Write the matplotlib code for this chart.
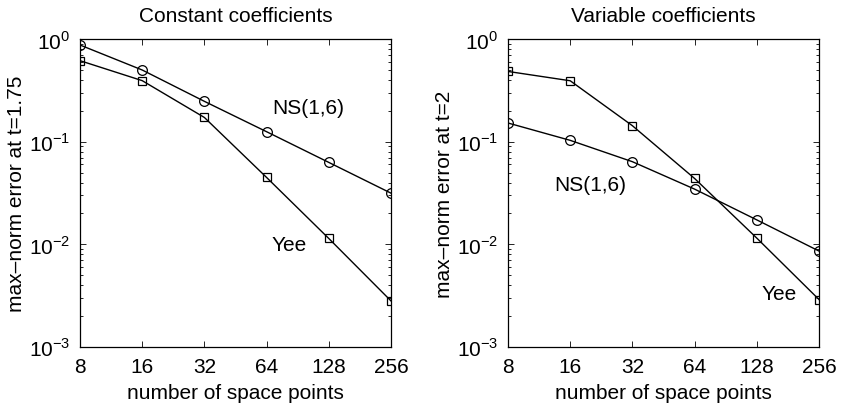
import numpy as np
import matplotlib
matplotlib.use("Agg")
import matplotlib.pyplot as plt
from matplotlib.ticker import FixedLocator, LogLocator, NullFormatter

plt.rcParams['font.family'] = ['Liberation Sans', 'DejaVu Sans']
plt.rcParams['mathtext.fontset'] = 'custom'
plt.rcParams['mathtext.rm'] = 'Liberation Sans'
plt.rcParams['font.size'] = 15

# grid sizes
n_points = [8, 16, 32, 64, 128, 256]
x_ticklabels = ["8", "16", "32", "64", "128", "256"]

# constant coefficients, error at t=1.75
const_ns = [0.874, 0.499, 0.247, 0.125, 0.0628, 0.0315]
const_yee = [0.615, 0.393, 0.172, 0.0448, 0.0114, 0.00281]

# variable coefficients, error at t=2
var_ns = [0.152, 0.103, 0.0638, 0.0345, 0.0173, 0.0086]
var_yee = [0.483, 0.392, 0.143, 0.0438, 0.0115, 0.0029]

y_ticks = [1e-3, 1e-2, 1e-1, 1e0]
y_ticklabels = [r"$10^{-3}$", r"$10^{-2}$", r"$10^{-1}$", r"$10^{0}$"]

panels = [
    ("Constant coefficients", "max\u2013norm error at t=1.75", const_ns, const_yee,
     (101.8, 0.217), (82.6, 0.0100)),
    ("Variable coefficients", "max\u2013norm error at t=2", var_ns, var_yee,
     (20.0, 0.0386), (165.0, 0.00334)),
]

fig = plt.figure(figsize=(8.42, 4.10), dpi=100)
lefts = [80 / 842, 508 / 842]
w = 311 / 842
b = 1 - 348 / 410
h = 308 / 410

fs = 15
for left, (title, ylab, ns, yee, ns_pos, yee_pos) in zip(lefts, panels):
    ax = fig.add_axes([left, b, w, h])
    ax.plot(n_points, ns, '-', color='k', lw=1.0, marker='o', ms=7,
            mfc='none', mec='k', mew=0.9)
    ax.plot(n_points, yee, '-', color='k', lw=1.0, marker='s', ms=5.5,
            mfc='none', mec='k', mew=0.9)
    ax.set_xscale('log', base=2)
    ax.set_yscale('log')
    ax.set_xlim(8, 256)
    ax.set_ylim(1e-3, 1)
    ax.xaxis.set_major_locator(FixedLocator(n_points))
    ax.set_xticklabels(x_ticklabels)
    ax.xaxis.set_minor_locator(FixedLocator([]))
    ax.yaxis.set_major_locator(FixedLocator(y_ticks))
    ax.set_yticklabels(y_ticklabels)
    ax.yaxis.set_minor_locator(LogLocator(base=10, subs=np.arange(2, 10)))
    ax.yaxis.set_minor_formatter(NullFormatter())
    ax.tick_params(which='both', direction='in', top=True, right=True,
                   width=0.6, labelsize=fs)
    ax.tick_params(which='major', length=4, pad=7)
    ax.tick_params(which='minor', length=2)
    for s in ax.spines.values():
        s.set_linewidth(0.9)
    ax.set_title(title, fontsize=fs, pad=13)
    ax.set_xlabel("number of space points", fontsize=fs, labelpad=5)
    ax.set_ylabel(ylab, fontsize=fs, labelpad=2)
    ax.text(ns_pos[0], ns_pos[1], "NS(1,6)", ha='center', va='center', fontsize=fs)
    ax.text(yee_pos[0], yee_pos[1], "Yee", ha='center', va='center', fontsize=fs)

fig.savefig("out.png", dpi=100)
